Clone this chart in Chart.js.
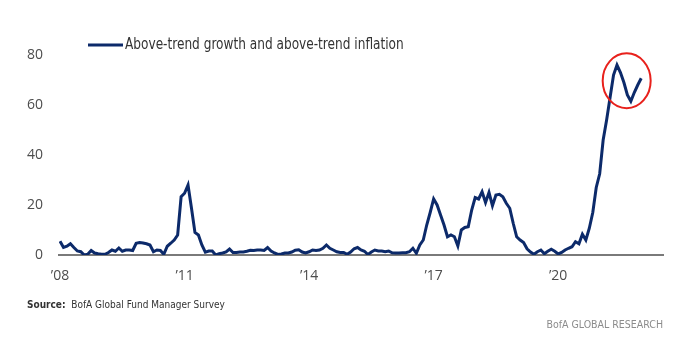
<!DOCTYPE html>
<html>
<head>
<meta charset="utf-8">
<script src="https://cdn.jsdelivr.net/npm/chart.js@4/dist/chart.umd.min.js"></script>
<style>
  body { margin: 0; background: #fff; }
  #wrap { position: relative; width: 684px; height: 358px; }
  .note { position: absolute; font-family: "Liberation Sans Narrow", "DejaVu Sans Condensed", sans-serif; }
  #source { left: 27px; top: 299px; font-size: 10px; color: #333; }
  #source b { font-weight: bold; }
  #brand { right: 21px; top: 318px; font-size: 10.5px; color: #8c8c8c; }
</style>
</head>
<body>
<div id="wrap">
  <canvas id="chart" width="684" height="358"></canvas>
  <div class="note" id="source"><b>Source:</b>&nbsp; BofA Global Fund Manager Survey</div>
  <div class="note" id="brand">BofA GLOBAL RESEARCH</div>
</div>
<script>
// monthly readings, Jan 2008 onwards (% of FMS respondents)
const seriesLabel = "Above-trend growth and above-trend inflation"
const values = [
  5.5, 3, 3.5, 4.5, 3, 1.6, 1.3, 0, 0.3, 1.8, 0.8, 0.5,
  0.3, 0.3, 1, 2, 1.5, 2.8, 1.5, 2, 2, 1.8, 4.7, 5,
  4.8, 4.5, 4, 1.3, 2, 1.8, 0.3, 3.5, 4.7, 6, 8, 23.3,
  24.7, 28, 18.7, 9, 8, 4, 1.1, 1.6, 1.6, 0, 0.5, 0.8,
  1.2, 2.4, 1, 1, 1.2, 1.2, 1.5, 1.9, 1.8, 2, 2, 1.8,
  3, 1.6, 0.8, 0.2, 0.4, 0.8, 0.8, 1.2, 1.9, 2.1, 1.2, 0.8,
  1.3, 2, 1.8, 2, 2.7, 4, 2.7, 2, 1.3, 1, 1, 0.3,
  1.2, 2.5, 3, 2, 1.5, 0.2, 1.2, 2, 1.6, 1.6, 1.3, 1.6,
  0.9, 0.8, 0.8, 0.9, 0.9, 1.3, 2.7, 0.7, 4, 6, 12, 17,
  22.4, 20, 16, 12, 7.3, 8, 7.3, 3.6, 10, 11, 11.3, 18,
  23, 22.4, 25.3, 21, 25, 19.7, 24, 24.3, 23.3, 20.7, 18.7, 12.7,
  7.3, 6, 5, 2.5, 1.2, 0.3, 1.3, 2, 0.5, 1.5, 2.3, 1.5,
  0.4, 1, 2, 2.7, 3.3, 5.3, 4.5, 8.3, 6, 10.7, 17, 27,
  32.5, 46, 54, 63, 72, 76, 73, 69, 64, 61.5, 65, 68,
  70.7
]
const tickMonths = [0, 36, 72, 108, 144]
const tickLabels = ["\u201908", "\u201911", "\u201914", "\u201917", "\u201920"]
const yTicks = [0, 20, 40, 60, 80]
const circleAt = { month: 163.8, value: 69.7 }

const navy = "#0c2a6a"
const axisFont = { family: "'Open Sans', sans-serif", size: 14 }

const points = values.map((v, i) => ({ x: i, y: v }))

// legend drawn by hand so it sits where the original has it
const legendPlugin = {
  id: "legendLine",
  afterDraw(chart) {
    const ctx = chart.ctx
    ctx.save()
    ctx.strokeStyle = navy
    ctx.lineWidth = 3
    ctx.beginPath()
    ctx.moveTo(88, 45)
    ctx.lineTo(123, 45)
    ctx.stroke()
    ctx.fillStyle = "#333"
    ctx.font = "15px 'Liberation Sans Narrow', 'DejaVu Sans Condensed', sans-serif"
    ctx.textBaseline = "middle"
    ctx.scale(0.9, 1)
    ctx.fillText(chart.data.datasets[0].label, 125 / 0.9, 45)
    ctx.restore()
  },
}

// red ring round the latest readings
const circlePlugin = {
  id: "ring",
  afterDatasetsDraw(chart) {
    const { ctx, scales } = chart
    const cx = scales.x.getPixelForValue(circleAt.month)
    const cy = scales.y.getPixelForValue(circleAt.value)
    ctx.save()
    ctx.strokeStyle = "#e8211c"
    ctx.lineWidth = 2
    ctx.beginPath()
    ctx.ellipse(cx, cy, 24, 27.5, 0, 0, Math.PI * 2)
    ctx.stroke()
    ctx.restore()
  },
}

new Chart(document.getElementById("chart"), {
  type: "line",
  data: {
    datasets: [
      {
        label: seriesLabel,
        data: points,
        borderColor: navy,
        borderWidth: 3,
        pointRadius: 0,
        tension: 0,
        fill: false,
      },
    ],
  },
  options: {
    responsive: false,
    animation: false,
    layout: { padding: { left: 0, right: 21, top: 55, bottom: 0 } },
    plugins: { legend: { display: false }, tooltip: { enabled: false } },
    scales: {
      x: {
        type: "linear",
        min: -0.3,
        max: 174.3,
        afterFit: (s) => { s.height = 103 },
        afterBuildTicks: (s) => { s.ticks = tickMonths.map((v) => ({ value: v })) },
        grid: { display: false, drawTicks: false },
        border: { display: true, color: "#7a7a7a", width: 2 },
        ticks: {
          padding: 13,
          color: "#4d4d4d",
          font: axisFont,
          autoSkip: false,
          maxRotation: 0,
          callback: (v) => tickLabels[tickMonths.indexOf(v)],
        },
      },
      y: {
        min: 0,
        max: 80,
        afterFit: (s) => { s.width = 59 },
        afterBuildTicks: (s) => { s.ticks = yTicks.map((v) => ({ value: v })) },
        grid: { display: false, drawTicks: false },
        border: { display: false },
        ticks: { padding: 16, color: "#4d4d4d", font: axisFont },
      },
    },
  },
  plugins: [legendPlugin, circlePlugin],
})
</script>
</body>
</html>
